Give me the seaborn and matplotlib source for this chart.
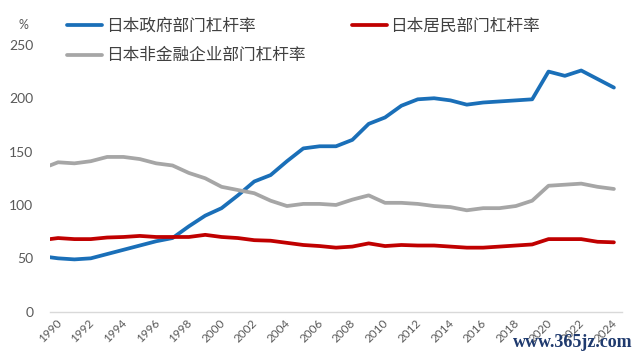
import numpy as np
import pandas as pd
import matplotlib
matplotlib.use("Agg")
import matplotlib.pyplot as plt
import seaborn as sns

# time index (decimal years): start of 1990, then mid-year points
t = [1990.0] + [y + 0.5 for y in range(1990, 2025)]

gov = [51, 50, 49, 50, 54, 58, 62, 66, 69, 80, 90, 97, 109, 122, 128, 141, 153, 155,
       155, 161, 176, 182, 193, 199, 200, 198, 194, 196, 197, 198, 199, 225, 221, 226,
       218, 210]
house = [68, 69, 68, 68, 69.5, 70, 71, 70, 70, 70, 72, 70, 69, 67, 66.5, 64.5, 62.5,
         61.5, 60, 61, 64, 61.5, 62.5, 62, 62, 61, 60, 60, 61, 62, 63, 68, 68, 68, 65.5, 65]
corp = [137, 140, 139, 141, 145, 145, 143, 139, 137, 130, 125, 117, 114, 111, 104, 99,
        101, 101, 100, 105, 109, 102, 102, 101, 99, 98, 95, 97, 97, 99, 104, 118, 119,
        120, 117, 115]

names = ["日本政府部门杠杆率", "日本非金融企业部门杠杆率", "日本居民部门杠杆率"]
colors = ["#1a6fb8", "#a6a6a6", "#c00000"]
xticks = list(range(1990, 2025, 2))

df = pd.concat([
    pd.DataFrame({"t": t, "v": gov, "s": names[0]}),
    pd.DataFrame({"t": t, "v": corp, "s": names[1]}),
    pd.DataFrame({"t": t, "v": house, "s": names[2]}),
])

sns.set_theme(style="white")
plt.rcParams["font.family"] = ["Lato", "Noto Sans CJK SC", "DejaVu Sans"]

fig = plt.figure(figsize=(6.4, 3.62), dpi=100)
ax = fig.add_axes([0.078, 0.139, 0.894, 0.737])

sns.lineplot(data=df, x="t", y="v", hue="s", hue_order=names,
             palette=dict(zip(names, colors)), linewidth=2.7, ax=ax, legend=False)

ax.set_xlim(1990, 2025)
ax.set_ylim(0, 250)
ax.set_yticks([0, 50, 100, 150, 200, 250])
ax.set_xticks(xticks)
ax.set_xticklabels([str(x) for x in xticks], rotation=45, ha="center", va="top")
ax.set_xlabel("")
ax.set_ylabel("")
for s in ["top", "right", "left"]:
    ax.spines[s].set_visible(False)
ax.spines["bottom"].set_color("#d9d9d9")
ax.spines["bottom"].set_linewidth(1)
ax.tick_params(axis="x", colors="#d9d9d9", length=4, width=1, direction="out",
               pad=0, labelsize=8.5, labelcolor="#595959")
ax.tick_params(axis="y", length=0, pad=12, labelsize=10, labelcolor="#595959")

handles = ax.get_lines()[:3]
ax.legend(handles, names, ncol=2, loc="upper left", bbox_to_anchor=(0.105, 0.95),
          bbox_transform=fig.transFigure, frameon=False, fontsize=12,
          handlelength=2.1, handletextpad=0.2, columnspacing=2.8, labelspacing=0.8,
          labelcolor="#404040", borderaxespad=0, borderpad=0)

fig.text(0.036, 0.93, "%", fontsize=9, color="#595959", ha="center", va="center")
fig.text(0.988, 0.03, "www.365jz.com", fontsize=13, color="#1f3a6e",
         family="Liberation Serif", weight="bold", ha="right", va="bottom")

fig.savefig("out.png", dpi=100)
